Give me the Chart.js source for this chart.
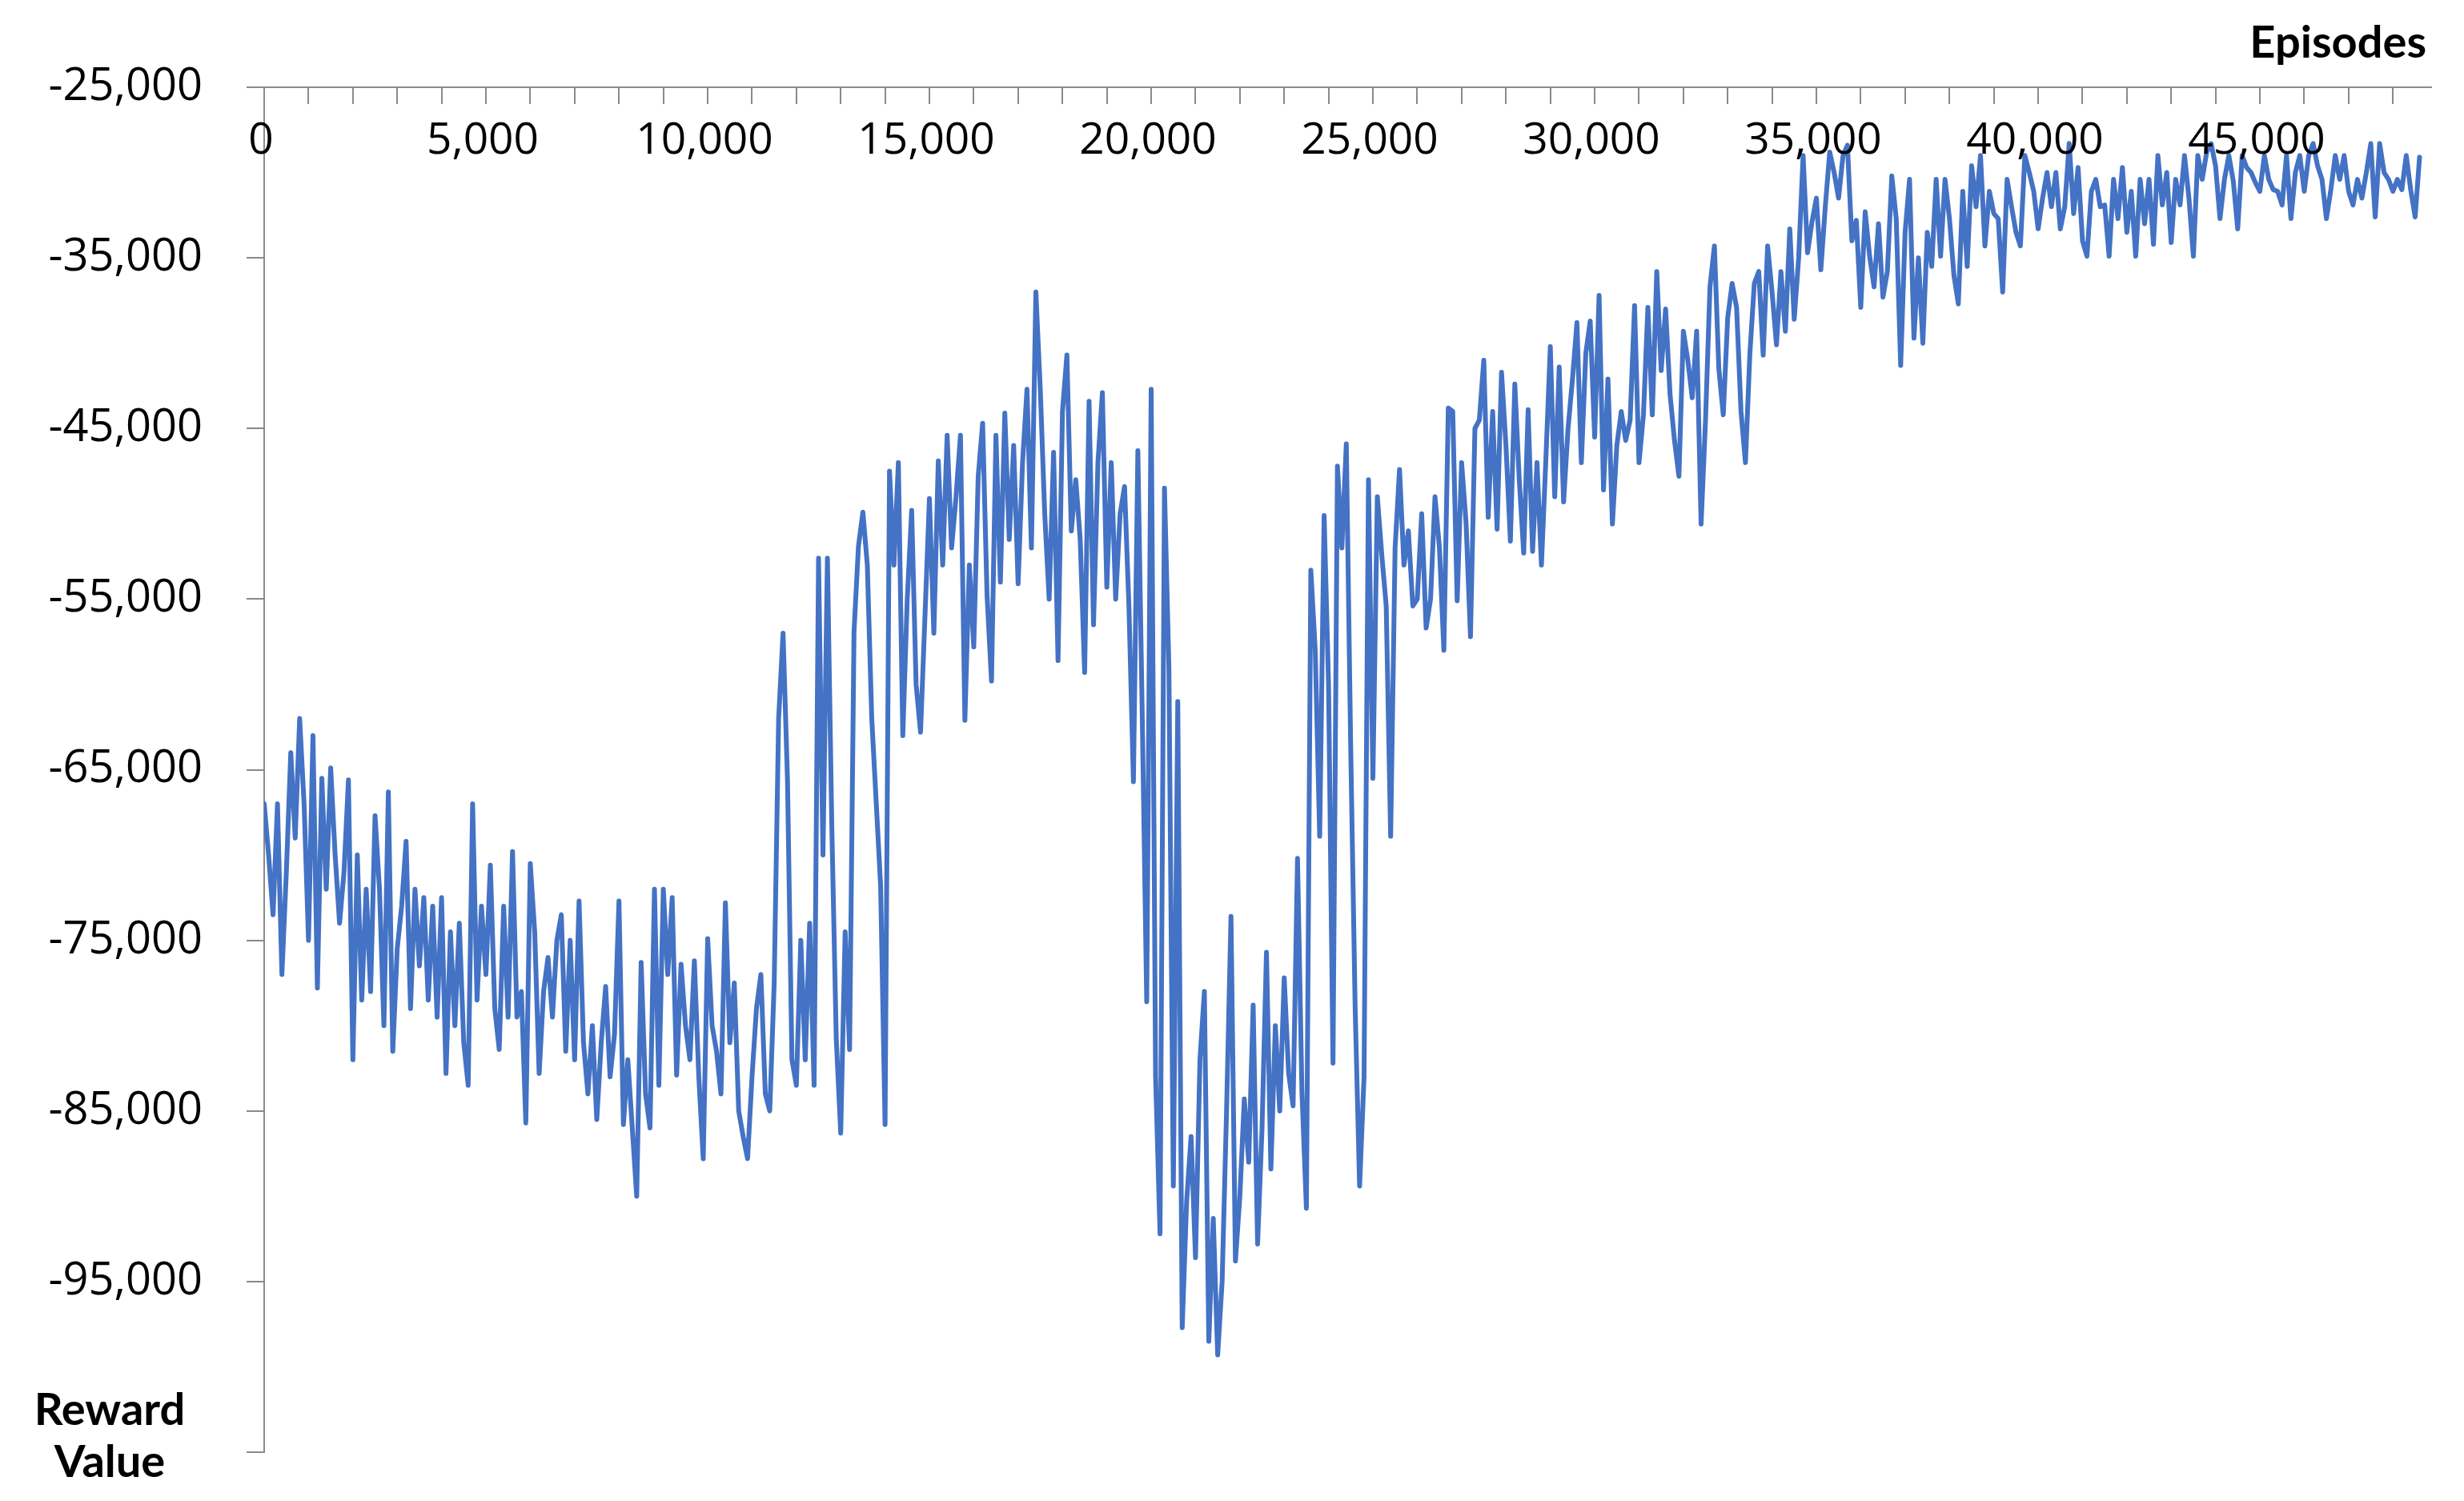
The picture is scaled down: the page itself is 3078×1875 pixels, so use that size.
<!DOCTYPE html>
<html>
<head>
<meta charset="utf-8">
<title>Reward Value by Episode</title>
<script src="https://cdn.jsdelivr.net/npm/chart.js@4.4.1/dist/chart.umd.min.js"></script>
<style>
    html, body { margin: 0; padding: 0; background: #fff; }
    #wrap { width: 3078px; height: 1875px; }
</style>
</head>
<body>
<div id="wrap"><canvas id="rewardChart" width="3078" height="1875"></canvas></div>
<script>
// one reading every 100 episodes, taken off the original plot
const sampleStep = 100;

const rewards0k = [
    -67000, -70000, -73500, -67000, -77000, -71000, -64000, -69000, -62000, -67000,
    -75000, -63000, -77800, -65500, -72000, -64900, -70000, -74000, -71000, -65600,
    -82000, -70000, -78500, -72000, -78000, -67700, -72000, -80000, -66300, -81500,
    -75500, -73000, -69200, -79000, -72000, -76500, -72500, -78500, -73000, -79500,
    -72500, -82800, -74500, -80000, -74000, -81000, -83500, -67000, -78500, -73000
];
const rewards5k = [
    -77000, -70600, -79000, -81400, -73000, -79500, -69800, -79500, -78000, -85700,
    -70500, -74500, -82800, -78000, -76000, -79500, -75000, -73500, -81500, -75000,
    -82000, -72700, -81000, -84000, -80000, -85500, -81000, -77700, -83000, -80500,
    -72700, -85800, -82000, -86000, -90000, -76300, -84000, -86000, -72000, -83500,
    -72000, -77000, -72500, -82900, -76400, -80000, -82000, -76200, -83000, -87800
];
const rewards10k = [
    -74900, -80000, -81500, -84000, -72800, -81000, -77500, -85000, -86500, -87800,
    -83000, -79000, -77000, -84000, -85000, -77500, -62000, -57000, -65600, -82000,
    -83500, -75000, -82000, -74000, -83500, -52600, -70000, -52600, -68400, -80800,
    -86300, -74500, -81400, -56900, -51900, -49900, -53000, -62000, -66900, -71800,
    -85800, -47500, -53000, -47000, -63000, -55000, -49800, -60000, -62800, -56000
];
const rewards15k = [
    -49100, -57000, -46900, -53000, -45400, -52000, -49000, -45400, -62100, -53000,
    -57800, -47800, -44700, -54800, -59800, -45400, -54000, -44100, -51500, -46000,
    -54100, -47000, -42700, -52000, -37000, -42700, -50000, -55000, -46400, -58600,
    -44000, -40700, -51000, -48000, -51500, -59300, -43400, -56500, -47000, -42900,
    -54300, -47000, -55000, -50000, -48400, -55500, -65700, -46300, -62000, -78600
];
const rewards20k = [
    -42700, -83000, -92200, -48500, -59000, -89400, -61000, -97700, -90300, -86500,
    -93600, -82000, -78000, -98500, -91300, -99300, -95000, -85000, -73600, -93800,
    -90000, -84300, -88000, -78800, -92800, -86000, -75700, -88400, -80000, -85000,
    -77200, -82800, -84700, -70200, -83900, -90700, -53300, -58000, -68900, -50100,
    -60000, -82200, -47200, -52000, -45900, -63800, -79000, -89400, -83000, -48000
];
const rewards25k = [
    -65500, -49000, -52400, -55400, -68900, -52000, -47400, -53000, -51000, -55400,
    -55000, -50000, -56700, -55000, -49000, -52000, -58000, -43800, -44000, -55100,
    -47000, -50500, -57200, -45000, -44500, -41000, -50200, -44000, -50900, -41700,
    -46000, -51600, -42400, -48000, -52300, -43900, -52200, -47000, -53000, -46800,
    -40200, -49000, -41400, -49300, -45000, -42100, -38800, -47000, -40600, -38700
];
const rewards30k = [
    -45500, -37200, -48600, -42100, -50600, -46000, -44000, -45700, -44500, -37800,
    -47000, -44200, -37900, -44200, -35800, -41600, -38000, -43000, -45700, -47800,
    -39300, -41000, -43200, -39300, -50600, -44500, -36700, -34300, -41500, -44200,
    -38500, -36500, -37900, -44000, -47000, -40600, -36500, -35800, -40700, -34300,
    -37000, -40100, -35800, -39300, -33300, -38600, -35000, -29000, -34700, -32900
];
const rewards35k = [
    -31500, -35700, -32000, -28800, -30000, -31500, -29000, -28400, -34000, -32800,
    -37900, -32300, -34900, -36700, -33000, -37300, -35800, -30200, -32700, -41300,
    -33500, -30400, -39700, -35000, -40000, -33500, -35500, -30400, -34900, -30400,
    -32700, -36000, -37700, -31100, -35500, -29600, -32000, -29000, -34300, -31100,
    -32400, -32700, -37000, -30400, -32000, -33500, -34300, -29000, -30000, -31100
];
const rewards40k = [
    -33300, -31500, -30000, -32000, -30000, -33300, -32000, -28300, -32400, -29700,
    -34000, -34900, -31100, -30400, -32000, -31900, -34900, -30400, -32700, -29700,
    -33500, -31100, -34900, -30400, -33000, -30400, -34200, -29000, -31900, -30000,
    -34100, -30400, -31900, -29000, -31500, -34900, -29000, -30400, -28800, -28300,
    -29600, -32700, -30400, -29000, -30500, -33300, -29000, -29700, -30000, -30600
];
const rewards45k = [
    -31100, -29000, -30400, -31000, -31100, -31900, -29000, -32700, -30000, -29000,
    -31100, -29000, -28300, -29600, -30400, -32700, -31000, -29000, -30400, -29000,
    -31100, -31900, -30400, -31500, -30000, -28300, -32600, -28300, -30000, -30400,
    -31100, -30400, -31000, -29000, -31000, -32600, -29100
];

// axis ticks and labels
const xLabelValues = [0, 5000, 10000, 15000, 20000, 25000, 30000, 35000, 40000, 45000];
const xTickLabels = ['0', '5,000', '10,000', '15,000', '20,000', '25,000', '30,000', '35,000', '40,000', '45,000'];
const yTickValues = [-105000, -95000, -85000, -75000, -65000, -55000, -45000, -35000, -25000];
const yTickLabels = ['', '-95,000', '-85,000', '-75,000', '-65,000', '-55,000', '-45,000', '-35,000', '-25,000'];
const xTitle = 'Episodes';
const yTitle = ['Reward', 'Value'];

const xMin = 0;
const xMax = 48880;
const xMinorStep = 1000;
const axisColor = '#8a8a8a';
const lineColor = '#4472C4';

document.addEventListener('DOMContentLoaded', function() {
    initRewardChart();
});

// x axis sits on top, with tick marks and labels hanging below the line
const topAxisPlugin = {
    id: 'topAxis',
    afterDraw(chart) {
        const { ctx, chartArea } = chart;
        const x = chart.scales.x;
        const top = chartArea.top;

        ctx.save();
        ctx.strokeStyle = axisColor;
        ctx.lineWidth = 2;
        ctx.beginPath();
        ctx.moveTo(chartArea.left, top);
        ctx.lineTo(chartArea.right, top);
        for (let v = xMin; v <= xMax; v += xMinorStep) {
            const px = Math.round(x.getPixelForValue(v));
            ctx.moveTo(px, top);
            ctx.lineTo(px, top + 21);
        }
        ctx.stroke();

        ctx.fillStyle = '#000';
        ctx.font = '55px "Open Sans"';
        ctx.textAlign = 'center';
        ctx.textBaseline = 'alphabetic';
        xLabelValues.forEach((v, i) => {
            ctx.fillText(xTickLabels[i], x.getPixelForValue(v) - 4, top + 83);
        });

        // axis titles
        ctx.font = 'bold 56px Lato';
        ctx.textAlign = 'right';
        ctx.fillText(xTitle, 3031, 72);
        ctx.textAlign = 'center';
        ctx.fillText(yTitle[0], 137, 1780);
        ctx.fillText(yTitle[1], 137, 1845);
        ctx.restore();
    }
};

function initRewardChart() {
    const canvas = document.getElementById('rewardChart');
    if (!canvas) return;

    const rewards = [].concat(rewards0k, rewards5k, rewards10k, rewards15k, rewards20k,
        rewards25k, rewards30k, rewards35k, rewards40k, rewards45k);
    const points = rewards.map((r, i) => ({ x: i * sampleStep, y: r }));

    new Chart(canvas.getContext('2d'), {
        type: 'line',
        data: {
            datasets: [{
                label: 'Reward Value',
                data: points,
                borderColor: lineColor,
                backgroundColor: lineColor,
                borderWidth: 6,
                borderJoinStyle: 'round',
                borderCapStyle: 'round',
                pointRadius: 0,
                tension: 0,
                fill: false
            }]
        },
        options: {
            responsive: false,
            animation: false,
            devicePixelRatio: 1,
            layout: { padding: { top: 109, right: 40, bottom: 61, left: 0 } },
            plugins: {
                legend: { display: false },
                tooltip: { enabled: false }
            },
            scales: {
                x: {
                    type: 'linear',
                    display: false,
                    min: xMin,
                    max: xMax
                },
                y: {
                    min: -105000,
                    max: -25000,
                    afterBuildTicks: s => { s.ticks = yTickValues.map(v => ({ value: v })); },
                    afterFit: s => {
                        s.width = 330;
                        s.paddingTop = 0;
                        s.paddingBottom = 0;
                    },
                    grid: {
                        drawOnChartArea: false,
                        drawTicks: true,
                        tickLength: 22,
                        color: axisColor,
                        lineWidth: 2
                    },
                    border: { display: true, color: axisColor, width: 2 },
                    ticks: {
                        padding: 55,
                        color: '#000',
                        font: { family: 'Open Sans', size: 56 },
                        callback: (value) => yTickLabels[yTickValues.indexOf(value)]
                    }
                }
            }
        },
        plugins: [topAxisPlugin]
    });
}
</script>
</body>
</html>
